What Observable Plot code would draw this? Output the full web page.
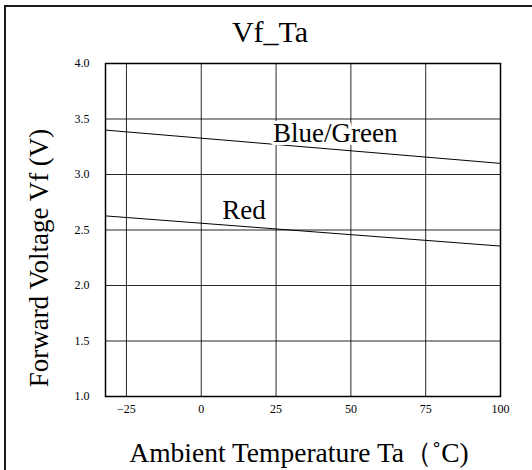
<!DOCTYPE html>
<html>
<head>
<meta charset="utf-8">
<script src="https://cdn.jsdelivr.net/npm/d3@7"></script>
<script src="https://cdn.jsdelivr.net/npm/@observablehq/plot@0.6"></script>
<style>
  html, body { margin: 0; padding: 0; background: #fff; overflow: hidden; }
  #wrap { position: relative; width: 532px; height: 470px; overflow: hidden; }
  #border { position: absolute; left: 4px; top: 5px; right: 0; bottom: 0; border-left: 2px solid #1a1a1a; border-top: 2px solid #1a1a1a; pointer-events: none; }
  svg { font-family: "Liberation Serif", "DejaVu Serif", serif; display: block; }
</style>
</head>
<body>
<div id="wrap"><div id="border"></div></div>
<script>
// Data
const temps = [-32, 100];
const blueGreen = [3.40, 3.10];
const red = [2.627, 2.355];
const xTicks = [-25, 0, 25, 50, 75, 100];
const yTicks = [1.0, 1.5, 2.0, 2.5, 3.0, 3.5, 4.0];
const seriesNames = ["Blue/Green", "Red"];
const labelX = [24, 7];
const labelY = [3.295, 2.60];
const title = "Vf_Ta";
const xLabel = "Ambient Temperature Ta（˚C)";
const yLabel = "Forward Voltage Vf (V)";

const bgData = temps.map((t, i) => ({t, v: blueGreen[i]}));
const redData = temps.map((t, i) => ({t, v: red[i]}));
const labels = seriesNames.map((n, i) => ({n, x: labelX[i], y: labelY[i]}));

const chart = Plot.plot({
  width: 532,
  height: 470,
  marginLeft: 105,
  marginRight: 32,
  marginTop: 63,
  marginBottom: 74,
  style: {background: "transparent", fontFamily: "'Liberation Serif', serif", color: "#000"},
  x: {domain: [-32, 100], ticks: xTicks, tickSize: 0, tickPadding: 8, label: null},
  y: {domain: [1, 4], ticks: yTicks, tickSize: 0, tickPadding: 16, tickFormat: d3.format(".1f"), label: null},
  marks: [
    Plot.gridX(xTicks, {stroke: "#000", strokeOpacity: 0.85, strokeWidth: 1}),
    Plot.gridY(yTicks, {stroke: "#000", strokeOpacity: 0.85, strokeWidth: 1}),
    Plot.frame({stroke: "#000", strokeWidth: 1.5}),
    Plot.line(bgData, {x: "t", y: "v", stroke: "#000", strokeWidth: 1}),
    Plot.line(redData, {x: "t", y: "v", stroke: "#000", strokeWidth: 1}),
    Plot.text(labels, {x: "x", y: "y", text: "n", textAnchor: "start", lineAnchor: "bottom", fontSize: 27, fill: "#000", stroke: "white", strokeWidth: 6, style: "letter-spacing:1.2px"}),
    Plot.axisX(xTicks, {tickSize: 0, tickPadding: 8, fontSize: 12, fill: "#000"}),
    Plot.axisY(yTicks, {tickSize: 0, tickPadding: 16, fontSize: 12, tickFormat: d3.format(".1f"), fill: "#000"}),
    Plot.text([title], {frameAnchor: "top", dy: -43, dx: -33, text: d => d, fontSize: 30, fill: "#000"}),
    Plot.text([xLabel], {frameAnchor: "bottom", dy: 65, dx: -4, text: d => d, fontSize: 27.5, fill: "#000"}),
    Plot.text([yLabel], {frameAnchor: "left", textAnchor: "middle", dx: -66, dy: 28, rotate: -90, text: d => d, fontSize: 27, fill: "#000", style: "letter-spacing:0.6px"})
  ]
});
document.getElementById("wrap").prepend(chart);
</script>
</body>
</html>
